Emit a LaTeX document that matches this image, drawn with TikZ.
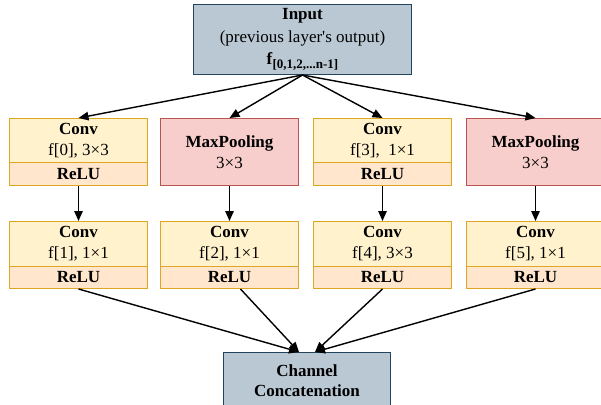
\documentclass[tikz,border=0pt]{standalone}
\usepackage{fontspec}
\setmainfont{Liberation Serif}
\usetikzlibrary{arrows.meta}
\definecolor{bluefill}{HTML}{BAC8D3}
\definecolor{blueline}{HTML}{23445D}
\definecolor{yelfill}{HTML}{FFF2CC}
\definecolor{yelline}{HTML}{DDA624}
\definecolor{relufill}{HTML}{FFE6CC}
\definecolor{redfill}{HTML}{F8CECC}
\definecolor{redline}{HTML}{B85450}
\tikzset{
  boxbase/.style={draw, line width=1pt, inner sep=0pt, align=center,
    font=\fontsize{17}{21}\selectfont, anchor=north west},
  inbox/.style={boxbase, fill=bluefill, draw=blueline},
  convbox/.style={boxbase, fill=yelfill, draw=yelline, minimum width=138pt},
  relubox/.style={boxbase, fill=relufill, draw=yelline, minimum width=138pt},
  poolbox/.style={boxbase, fill=redfill, draw=redline, minimum width=138pt, minimum height=67pt},
  arr/.style={draw=black, line width=1.4pt, -{Triangle[length=10pt,width=8.5pt]}}
}
\begin{document}
\begin{tikzpicture}[x=1pt,y=-1pt]
\useasboundingbox (0,0) rectangle (601,404);
\clip (0,0) rectangle (601,404);
% input
\node[inbox, minimum width=218pt, minimum height=70pt, font=\fontsize{17}{22.5}\selectfont] (in) at (193,4)
  {\textbf{Input}\\(previous layer\textquotesingle s output)\\\textbf{f}\raisebox{-4pt}{\fontsize{13}{13}\selectfont\textbf{[0,1,2,...n-1]}}};
% row 1
\node[convbox, minimum height=44pt] (a1) at (9,118) {\textbf{Conv}\\f[0], 3×3};
\node[relubox, minimum height=23pt] (a1r) at (9,162) {\textbf{ReLU}};
\node[poolbox] (b1) at (160,118) {\textbf{MaxPooling}\\3×3};
\node[convbox, minimum height=44pt] (c1) at (313,118) {\textbf{Conv}\\f[3],~ 1×1};
\node[relubox, minimum height=23pt] (c1r) at (313,162) {\textbf{ReLU}};
\node[poolbox] (d1) at (466,118) {\textbf{MaxPooling}\\3×3};
% row 2
\node[convbox, minimum height=45pt] (a2) at (9,221) {\textbf{Conv}\\f[1], 1×1};
\node[relubox, minimum height=22pt] (a2r) at (9,266) {\textbf{ReLU}};
\node[convbox, minimum height=45pt] (b2) at (160,221) {\textbf{Conv}\\f[2], 1×1};
\node[relubox, minimum height=22pt] (b2r) at (160,266) {\textbf{ReLU}};
\node[convbox, minimum height=45pt] (c2) at (313,221) {\textbf{Conv}\\f[4], 3×3};
\node[relubox, minimum height=22pt] (c2r) at (313,266) {\textbf{ReLU}};
\node[convbox, minimum height=45pt] (d2) at (466,221) {\textbf{Conv}\\f[5], 1×1};
\node[relubox, minimum height=22pt] (d2r) at (466,266) {\textbf{ReLU}};
% concat
\node[inbox, minimum width=167pt, minimum height=56pt, font=\fontsize{17}{20.5}\selectfont] (cc) at (223,352)
  {\textbf{Channel}\\\textbf{Concatenation}};
% arrows input -> row1
\draw[arr] (in.south) -- (a1.north);
\draw[arr] (in.south) -- (b1.north);
\draw[arr] (in.south) -- (c1.north);
\draw[arr] (in.south) -- (d1.north);
% row1 -> row2
\draw[arr] (a1r.south) -- (a2.north);
\draw[arr] (b1.south) -- (b2.north);
\draw[arr] (c1r.south) -- (c2.north);
\draw[arr] (d1.south) -- (d2.north);
% row2 -> concat
\coordinate (tl) at ([xshift=-8pt]cc.north);
\coordinate (tr) at ([xshift=8pt]cc.north);
\draw[arr] (a2r.south) -- (tl);
\draw[arr] ([xshift=11pt]b2r.south) -- (tl);
\draw[arr] (c2r.south) -- (tr);
\draw[arr] (d2r.south) -- (tr);
\end{tikzpicture}
\end{document}
